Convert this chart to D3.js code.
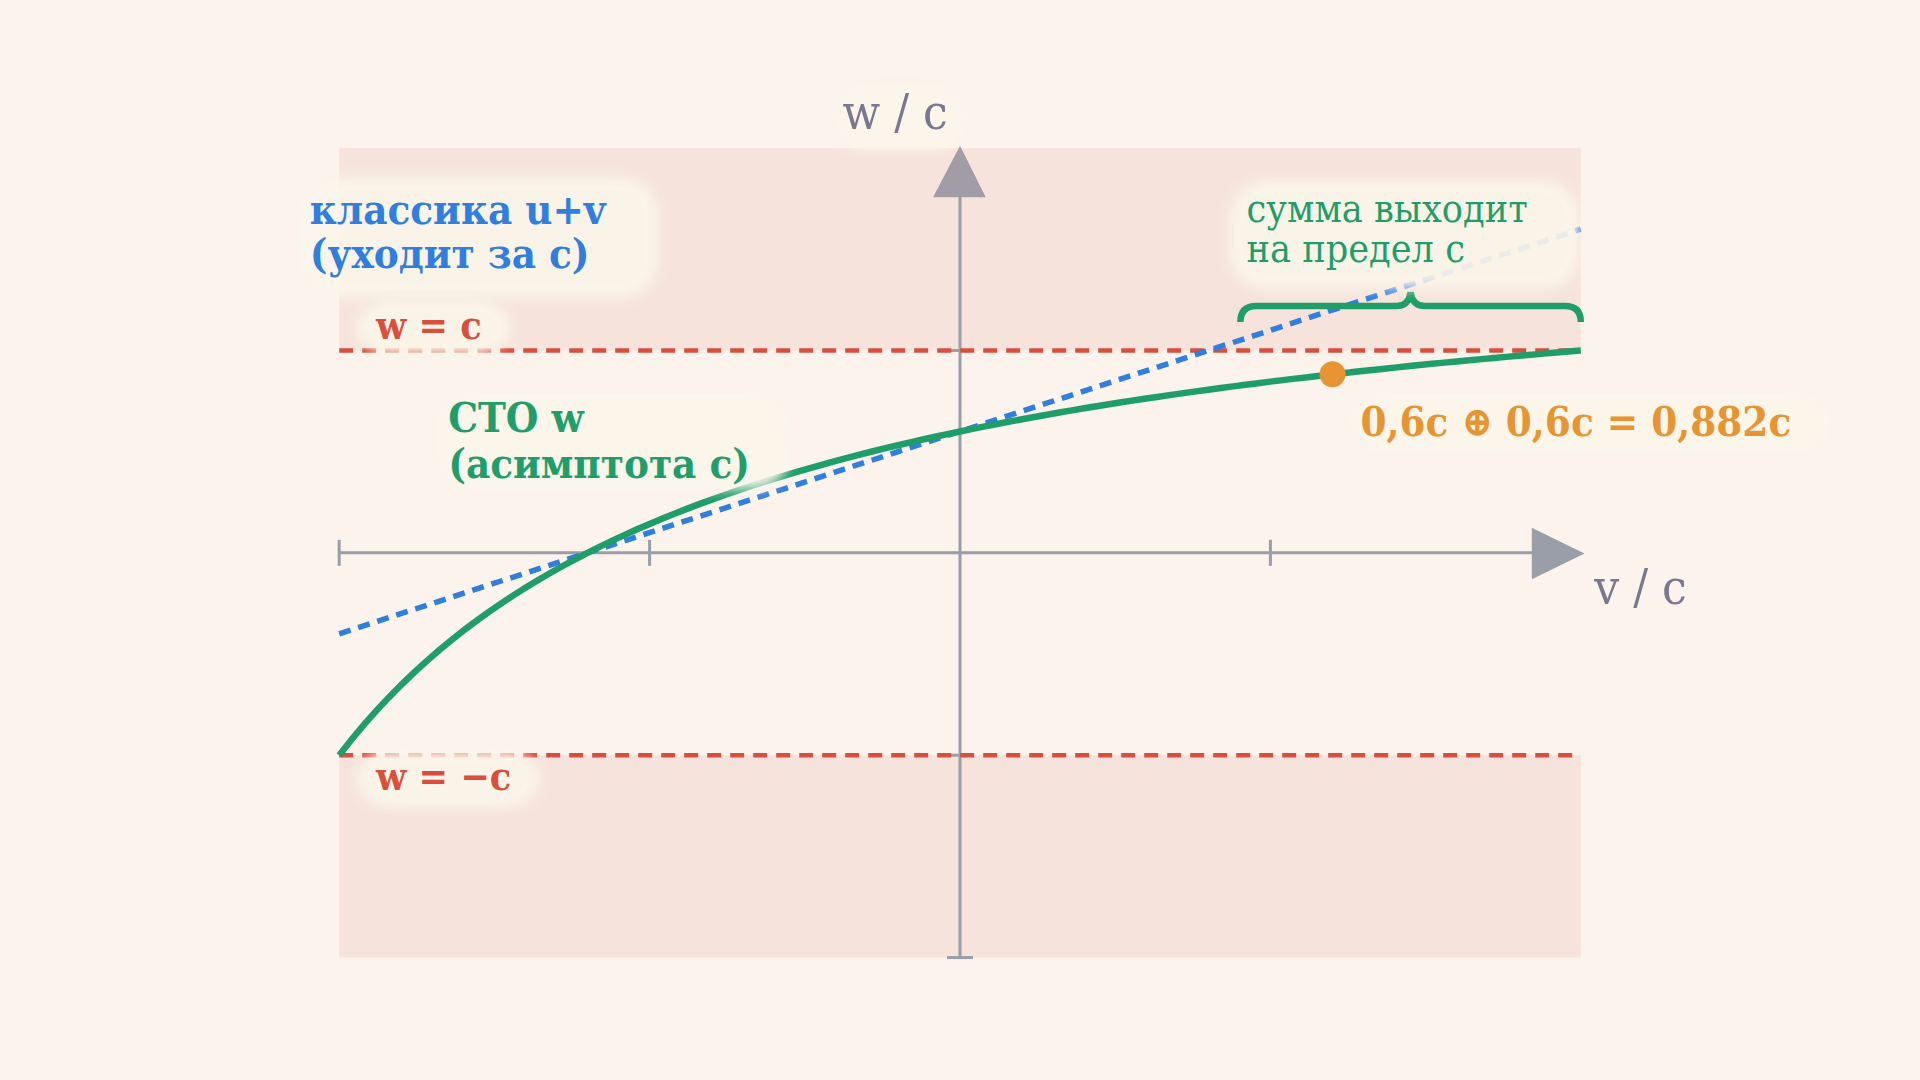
<!DOCTYPE html>
<html><head><meta charset="utf-8">
<script src="https://cdn.jsdelivr.net/npm/d3@7/dist/d3.min.js"></script>
<style>html,body{margin:0;background:#fbf3ec;}</style></head>
<body><svg id="c" width="1920" height="1080"></svg>
<script>
const u = 0.6;
const vSamples = d3.range(-1, 1.0001, 0.02).map(v => +v.toFixed(2));
const classicEnd = [-1, 1];
const xTicks = [-1, -0.5, 0.5];
const limits = [1, -1];
const pointV = 0.6;
const labels = {
  classic: ["классика  u+v", "(уходит за с)"],
  sto: ["СТО  w", "(асимптота с)"],
  sum: ["сумма выходит", "на предел с"],
  result: "0,6c ⊕ 0,6c = 0,882c",
  wc: "w = c", wmc: "w = −c", xl: "v / c", yl: "w / c"
};
const k = 1920/1568;
const S = v => v*k;
const svg = d3.select("#c");
const x = d3.scaleLinear().domain([-1,1]).range([S(277),S(1291)]);
const y = d3.scaleLinear().domain([-2,2]).range([S(782),S(121)]);
const rel = v => (u+v)/(1+u*v);
const font = "'DejaVu Serif Condensed', 'DejaVu Serif', serif";
const defs = svg.append("defs");
defs.append("filter").attr("id","blur").append("feGaussianBlur").attr("stdDeviation",6);
svg.append("rect").attr("x",x(-1)).attr("y",y(2)).attr("width",x(1)-x(-1)).attr("height",y(1)-y(2)).attr("fill","#f6e4dc");
svg.append("rect").attr("x",x(-1)).attr("y",y(-1)).attr("width",x(1)-x(-1)).attr("height",y(-2)-y(-1)).attr("fill","#f6e4dc");
const ax="#9a9ea8";
svg.append("line").attr("x1",x(-1)).attr("x2",S(1255)).attr("y1",y(0)).attr("y2",y(0)).attr("stroke",ax).attr("stroke-width",3);
svg.append("line").attr("x1",x(0)).attr("x2",x(0)).attr("y1",y(-2)).attr("y2",S(158)).attr("stroke",ax).attr("stroke-width",3);
svg.append("path").attr("d",`M${S(1251)},${S(431)}L${S(1294)},${S(452)}L${S(1251)},${S(473)}Z`).attr("fill",ax);
svg.append("path").attr("d",`M${S(762)},${S(161)}L${S(784)},${S(119)}L${S(805)},${S(161)}Z`).attr("fill","#a19ca6");
xTicks.forEach(t=>svg.append("line").attr("x1",x(t)).attr("x2",x(t)).attr("y1",y(0)-13).attr("y2",y(0)+13).attr("stroke",ax).attr("stroke-width",3));
svg.append("line").attr("x1",x(0)-13).attr("x2",x(0)+13).attr("y1",y(-2)).attr("y2",y(-2)).attr("stroke",ax).attr("stroke-width",3);
limits.forEach(l=>svg.append("line").attr("x1",x(0)-10).attr("x2",x(0)+10).attr("y1",y(l)).attr("y2",y(l)).attr("stroke",ax).attr("stroke-width",3));
limits.forEach(l=>svg.append("line").attr("x1",x(-1)).attr("x2",x(1)).attr("y1",y(l)).attr("y2",y(l)).attr("stroke","#d94f3d").attr("stroke-width",4.5).attr("stroke-dasharray","14,9"));
svg.append("line").attr("x1",x(classicEnd[0])).attr("y1",y(u+classicEnd[0])).attr("x2",x(classicEnd[1])).attr("y2",y(u+classicEnd[1]))
  .attr("stroke","#2f7ee0").attr("stroke-width",5.5).attr("stroke-dasharray","12,8");
svg.append("path").datum(vSamples).attr("d",d3.line().x(v=>x(v)).y(v=>y(rel(v)))).attr("fill","none").attr("stroke","#1f9e6a").attr("stroke-width",6.5);
svg.append("circle").attr("cx",x(pointV)).attr("cy",y(rel(pointV))).attr("r",13).attr("fill","#e69532");
const bx0=S(1013), bx1=S(1291), bm=S(1152), by=S(250);
svg.append("path").attr("d",`M${bx0},${by+16}Q${bx0},${by} ${bx0+16},${by}L${bm-14},${by}Q${bm-2},${by} ${bm},${by-14}Q${bm+2},${by} ${bm+14},${by}L${bx1-16},${by}Q${bx1},${by} ${bx1},${by+16}`)
  .attr("fill","none").attr("stroke","#1f9e6a").attr("stroke-width",6.5);
function halo(x0,y0,w,h){svg.append("rect").attr("x",S(x0)).attr("y",S(y0)).attr("width",S(w)).attr("height",S(h)).attr("rx",S(30)).attr("fill","#fbf6ea").attr("opacity",0.92).attr("filter","url(#blur)");}
halo(245,145,292,98); halo(292,245,125,45); halo(292,612,148,48); halo(355,320,290,80); halo(1005,148,285,88); halo(1100,320,395,50); halo(680,68,110,55);
function txt(t,x0,y0,size,color,weight){svg.append("text").attr("x",S(x0)).attr("y",S(y0)).attr("font-family",font).attr("font-size",S(size)).attr("fill",color).attr("font-weight",weight).text(t);}
txt(labels.classic[0],253,183,34,"#2f7ee0","bold"); txt(labels.classic[1],253,219,34,"#2f7ee0","bold");
txt(labels.wc,307,277,32,"#d94f3d","bold"); txt(labels.wmc,307,645,32,"#d94f3d","bold");
txt(labels.sto[0],366,353,34,"#1f9e6a","bold"); txt(labels.sto[1],366,390,34,"#1f9e6a","bold");
txt(labels.sum[0],1018,181,32,"#1f9e6a","normal"); txt(labels.sum[1],1018,214,32,"#1f9e6a","normal");
txt(labels.result,1111,356,34,"#e69532","bold");
txt(labels.yl,688,105,40,"#7a7890","normal"); txt(labels.xl,1302,493,40,"#7a7890","normal");
</script></body></html>
